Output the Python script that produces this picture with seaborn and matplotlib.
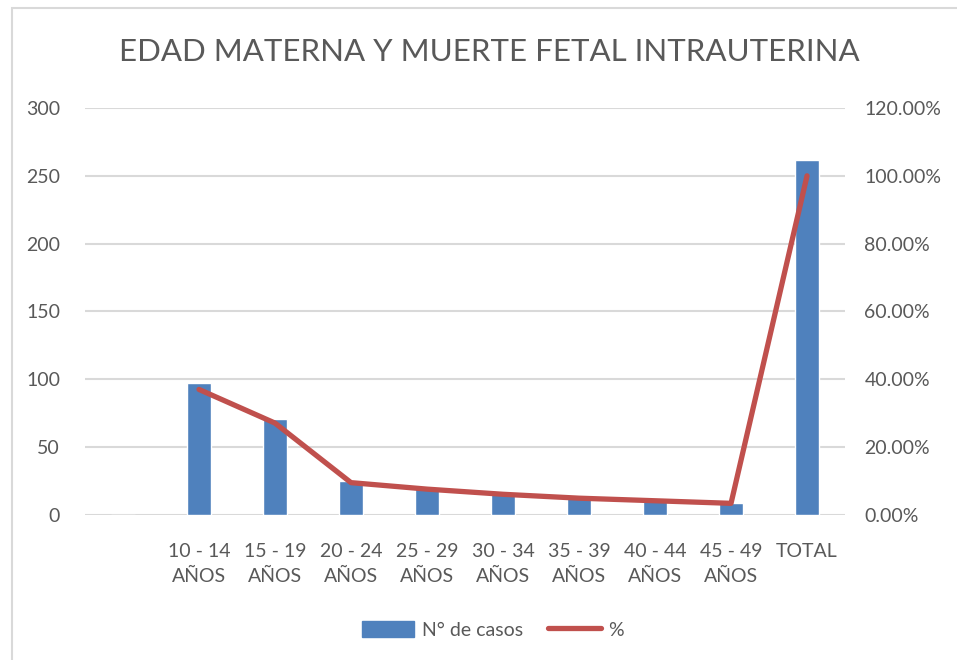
import matplotlib.pyplot as plt
import matplotlib.patches as mpatches
from matplotlib.lines import Line2D
from matplotlib.ticker import FuncFormatter
import pandas as pd
import seaborn as sns

categories = [" ", "10 - 14\nAÑOS", "15 - 19\nAÑOS", "20 - 24\nAÑOS", "25 - 29\nAÑOS",
              "30 - 34\nAÑOS", "35 - 39\nAÑOS", "40 - 44\nAÑOS", "45 - 49\nAÑOS", "TOTAL"]
casos = [0, 97, 71, 25, 20, 16, 13, 11, 9, 262]
porcentaje = [None, 37.02, 27.10, 9.54, 7.63, 6.11, 4.96, 4.20, 3.44, 100.0]

df = pd.DataFrame({"edad": categories, "casos": casos, "pct": porcentaje})

sns.set_style("white")
plt.rcParams['font.family'] = ['Lato', 'DejaVu Sans']
grey = "#595959"
blue = "#4F81BD"
red = "#C0504D"

fig = plt.figure(figsize=(9.57, 6.6), dpi=100)
ax = fig.add_axes([0.0888, 0.2197, 0.7942, 0.6167])

sns.barplot(data=df, x="edad", y="casos", order=categories, color=blue,
            width=0.32, saturation=1, ax=ax, zorder=2)
ax.set_ylim(0, 300)
ax.set_yticks(range(0, 301, 50))
ax.grid(axis="y", color="#D9D9D9", linewidth=1.5, zorder=0)
ax.set_axisbelow(True)
ax.set_xlabel("")
ax.set_ylabel("")
ax.tick_params(axis="both", length=0, labelsize=14, colors=grey)
ax.tick_params(axis="x", pad=20)
ax.tick_params(axis="y", pad=18)
for lab in ax.get_xticklabels():
    lab.set_linespacing(1.6)

ax2 = ax.twinx()
line_df = df.dropna(subset=["pct"])
ax2.plot(line_df["edad"], line_df["pct"], color=red, linewidth=3.8, zorder=3)
ax2.set_ylim(0, 120)
ax2.set_yticks(range(0, 121, 20))
ax2.yaxis.set_major_formatter(FuncFormatter(lambda v, p: f"{v:.2f}%"))
ax2.tick_params(axis="y", length=0, labelsize=14, colors=grey, pad=14)
ax2.set_ylabel("")
ax.set_xlim(-0.5, len(categories) - 0.5)

for a in (ax, ax2):
    for s in a.spines.values():
        s.set_visible(False)

fig.suptitle("EDAD MATERNA Y MUERTE FETAL INTRAUTERINA", x=0.511, y=0.943,
             fontsize=22.5, color=grey)

handles = [mpatches.Patch(color=blue, label="N° de casos"),
           Line2D([0], [0], color=red, linewidth=3.8, label="%")]
fig.legend(handles=handles, loc="center", bbox_to_anchor=(0.515, 0.046), ncol=2,
           frameon=False, fontsize=14, labelcolor=grey, handlelength=2.7,
           handleheight=0.9, handletextpad=0.4, columnspacing=1.3)

border = mpatches.Rectangle((12 / 957, -0.1), 1.0, 1.1 - 8 / 660, transform=fig.transFigure,
                            fill=False, edgecolor="#D9D9D9", linewidth=1.5)
fig.add_artist(border)

fig.savefig("out.png", dpi=100)
